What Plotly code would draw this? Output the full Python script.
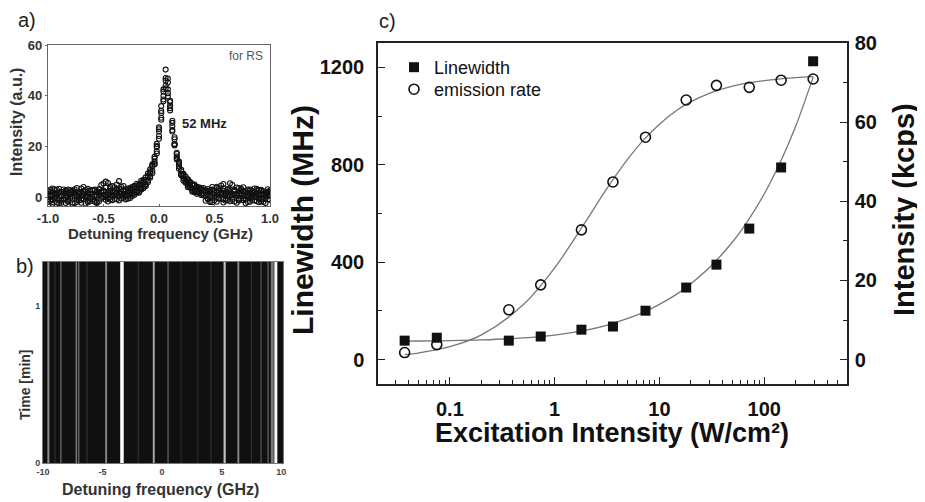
import plotly.graph_objects as go

W, H = 925, 502
OFF = 8  # the page body adds an 8px margin around the figure
FONT = "Liberation Sans, Arial, sans-serif"

# ---------------- panel a: resonance scan ----------------
detuning_a_ghz = [
    -1.00, -0.98, -0.96, -0.94, -0.92, -0.90, -0.88, -0.86, -0.84, -0.82,
    -0.80, -0.78, -0.76, -0.74, -0.72, -0.70, -0.68, -0.66, -0.64, -0.62,
    -0.60, -0.58, -0.56, -0.54, -0.52, -0.50, -0.48, -0.46, -0.44, -0.42,
    -0.40, -0.38, -0.36, -0.34, -0.32, -0.30, -0.28, -0.26, -0.24, -0.22,
    -0.20, -0.18, -0.16, -0.14, -0.12, -0.10, -0.08, -0.06, -0.04, -0.02,
    0.00, 0.02, 0.04, 0.06, 0.08, 0.10, 0.12, 0.14, 0.16, 0.18,
    0.20, 0.22, 0.24, 0.26, 0.28, 0.30, 0.32, 0.34, 0.36, 0.38,
    0.40, 0.42, 0.44, 0.46, 0.48, 0.50, 0.52, 0.54, 0.56, 0.58,
    0.60, 0.62, 0.64, 0.66, 0.68, 0.70, 0.72, 0.74, 0.76, 0.78,
    0.80, 0.82, 0.84, 0.86, 0.88, 0.90, 0.92, 0.94, 0.96, 0.98, 1.00,
]
scan1 = [
    1.2, -1.5, 2.3, 0.4, -2.1, 1.8, 0.2, -0.9, 2.6, -1.8,
    0.9, 1.5, -2.4, 0.3, 2.0, -1.1, 1.3, 0.6, -2.0, 2.7,
    0.1, -1.4, 1.9, 3.2, -0.6, 2.4, 1.0, -1.7, 3.5, 0.8,
    2.2, -0.8, 1.7, 4.1, 0.5,
    3.1, 0.4, 3.6, 1.2, 4.5, 2.0, 5.1, 3.2, 6.8, 4.9,
    8.5, 10.2, 12.0, 15.9, 20.1, 26.8, 34.0, 42.5, 47.0, 45.2,
    38.0, 30.1, 22.8, 17.5, 14.0, 10.8, 9.2, 6.0, 6.8, 3.9,
    5.2, 2.4, 4.1, 1.6, 3.5, 0.9,
    2.8, -0.5, 1.9, 3.0, -1.2, 2.2, 0.6, 4.6, -0.9, 1.4,
    2.9, -1.6, 0.7, 2.5, -2.2, 1.1, 3.3, -0.4, 1.8, -1.9,
    2.6, 0.2, -1.3, 1.6, 2.8, -0.7, 1.0, -2.3, 2.1, 0.5,
]
scan2 = [
    -0.8, 2.0, -2.6, 1.1, 2.9, -1.2, 0.7, 3.0, -2.3, 1.6,
    -0.4, 2.5, 0.9, -1.9, 1.2, 3.4, -0.7, 2.1, 1.4, -1.6,
    2.8, 0.5, -2.0, 1.3, 4.8, 1.9, -1.0, 5.6, 2.3, 0.1,
    3.9, 1.5, 6.3, -0.5, 2.6,
    0.2, 3.4, 0.9, 4.1, 1.6, 5.3, 2.1, 6.4, 3.5, 7.8,
    5.9, 11.0, 9.4, 13.1, 17.2, 23.0, 30.5, 37.8, 42.9, 41.0,
    34.2, 26.5, 20.4, 15.3, 11.2, 8.6, 6.5, 8.1, 3.9, 6.0,
    2.1, 5.0, 1.3, 3.9, 0.8, 3.6,
    -1.4, 2.4, 0.3, -2.0, 1.5, 3.6, -0.6, 2.0, 5.2, 0.8,
    -1.1, 2.3, 4.9, 1.0, 3.8, -0.9, 2.7, 0.4, -2.4, 1.7,
    3.0, -0.2, 2.2, -1.5, 0.6, 2.9, -0.8, 1.8, 3.1, -1.1,
]
scan3 = [
    2.4, 0.3, -1.1, 3.1, -0.5, 1.9, -2.2, 1.3, 0.5, -1.0,
    2.8, -2.1, 1.7, 3.6, -0.3, 0.8, 2.3, -2.5, 0.2, 1.4,
    -0.8, 3.0, 0.6, -1.6, 2.2, 0.0, 3.8, 1.1, -0.9, 4.4,
    0.6, 2.9, -1.3, 2.0, 1.0,
    2.3, -0.6, 1.8, 3.4, 0.9, 4.0, 1.7, 2.9, 6.1, 4.3,
    9.4, 7.6, 12.9, 13.0, 19.8, 24.1, 33.2, 39.9, 50.3, 46.8,
    37.5, 28.0, 21.0, 16.0, 13.5, 9.1, 8.3, 5.7, 7.0, 4.8,
    2.7, 4.6, 2.0, 3.0, 1.4, 2.6,
    0.4, 3.2, -1.5, 1.2, 2.6, -0.3, 3.5, 1.4, -2.1, 2.0,
    0.7, 5.5, 1.3, -1.7, 0.9, 2.2, -0.5, 3.9, 1.2, 0.3,
    -1.8, 2.4, 1.1, 3.3, -0.6, 1.5, -1.9, 0.8, 2.0, 1.2,
]
scan4 = [
    0.6, 2.9, -1.9, -0.2, 1.6, 3.3, -1.4, 2.1, -0.3, 3.0,
    1.2, -2.7, 2.2, 0.4, -1.3, 1.9, 4.0, 0.0, -1.5, 2.5,
    1.0, 2.6, -2.3, 0.8, 1.8, 5.4, 0.3, 2.0, 4.2, -1.2,
    1.6, 5.0, 0.4, 3.1, -0.2,
    1.1, 2.8, -0.3, 2.6, 3.9, 1.8, 4.5, 5.5, 4.2, 6.7,
    8.0, 9.5, 10.3, 15.2, 18.1, 25.9, 31.3, 41.6, 44.0, 42.5,
    35.1, 29.3, 20.9, 17.0, 12.1, 10.2, 7.4, 7.0, 5.1, 3.8,
    4.9, 3.0, 2.5, 3.3, 2.8, 1.5,
    1.9, -0.8, 2.6, 4.0, 0.1, -1.8, 2.7, 0.9, 3.4, -0.6,
    1.7, 3.0, -1.0, 2.1, 0.5, 3.6, 1.4, -1.2, 2.3, 0.8,
    -0.5, 1.9, 3.4, 0.0, -2.0, 2.4, 1.3, -0.3, 1.0, 2.6,
]
scan5 = [
    -1.9, 1.0, 3.4, -0.4, 0.9, -2.4, 2.0, 0.6, 1.7, -1.5,
    2.1, 0.2, 3.1, -0.9, 1.6, -2.2, 0.4, 2.8, 3.3, -0.6,
    1.2, -1.8, 2.4, 3.0, 0.4, 2.6, 6.1, -0.4, 1.5, 2.7,
    -0.7, 2.3, 3.4, 1.2, 4.4,
    -0.9, 2.1, 2.9, 0.4, 3.3, 2.6, 4.8, 3.9, 5.6, 5.1,
    6.6, 8.2, 12.4, 14.0, 21.0, 27.5, 35.9, 38.5, 46.0, 39.8,
    36.0, 25.9, 23.6, 14.8, 12.9, 8.9, 8.8, 6.2, 4.5, 5.7,
    3.4, 1.9, 3.8, 1.9, 3.0, 0.7,
    2.2, 1.0, -1.9, 2.8, 0.9, 4.1, -0.4, 1.6, 2.5, -1.4,
    3.2, 0.5, -0.2, 2.9, 1.5, -1.3, 1.0, 2.5, -0.9, 3.0,
    1.6, -1.1, 0.3, 2.7, 1.1, -1.6, 2.3, 0.2, -0.9, 1.8,
]

# ---------------- panel b: spectral lines vs time ----------------
line_freqs_ghz = [-9.55, -9.0, -8.5, -7.2, -7.0, -6.3, -4.7, -3.37, -2.0, -0.7, 0.5,
                  1.6, 3.0, 4.1, 5.25, 6.4, 7.5, 8.3, 8.9, 9.25, 9.55]
line_brightness = [0.5, 0.1, 0.28, 0.42, 0.3, 0.1, 0.45, 1.0, 0.1, 0.6, 0.25,
                   0.08, 0.08, 0.1, 0.72, 0.45, 0.1, 0.18, 0.25, 0.4, 0.98]
line_widths_px = [2, 1, 1.5, 1.5, 1.5, 1, 2, 3.5, 1, 2, 1.5,
                  1, 1, 1, 2.2, 2, 1, 1.5, 1.5, 3, 3]
time_span_min = [0.0, 1.28]

# ---------------- panel c: power dependence ----------------
exc_intensity = [0.037, 0.075, 0.365, 0.736, 1.8, 3.6, 7.36, 18, 35, 72, 145, 293]
linewidth_mhz = [78, 90, 78, 95, 123, 136, 201, 296, 390, 538, 789, 1225]
emission_kcps = [1.8, 3.8, 12.6, 18.9, 32.8, 44.9, 56.2, 65.6, 69.3, 68.8, 70.6, 70.9]

fit_x = [0.037, 0.05, 0.1, 0.2, 0.5, 1, 2, 3, 5, 7, 10, 15, 20, 30, 50, 70, 100, 150, 200, 293]
linewidth_fit = [76, 76.5, 78, 81, 89, 101, 121.5, 139, 169, 194, 227, 272, 312, 378,
                 484, 571, 680, 832, 959, 1160]
emission_fit = [1.25, 1.67, 3.27, 6.26, 13.85, 23.2, 35.1, 42.4, 50.7, 55.4, 59.5, 63.2,
                65.2, 67.3, 69.1, 69.9, 70.5, 71.0, 71.25, 71.5]


def px(xp):
    return (xp - OFF) / W


def py(yp):
    return 1 - (yp - OFF) / H


fig = go.Figure()

# panel a scatter
for s in (scan1, scan2, scan3, scan4, scan5):
    fig.add_trace(go.Scatter(
        x=detuning_a_ghz, y=s, mode="markers", xaxis="x", yaxis="y",
        marker=dict(symbol="circle-open", size=5, color="#111", line=dict(width=1.1)),
        showlegend=False, hoverinfo="skip"))

# panel b lines
for f, b, w in zip(line_freqs_ghz, line_brightness, line_widths_px):
    g = int(30 + 225 * b)
    fig.add_trace(go.Scatter(
        x=[f, f], y=time_span_min, mode="lines", xaxis="x2", yaxis="y2",
        line=dict(color=f"rgb({g},{g},{g})", width=w),
        showlegend=False, hoverinfo="skip"))

# panel c fits
fig.add_trace(go.Scatter(x=fit_x, y=linewidth_fit, mode="lines", xaxis="x3", yaxis="y3",
                         line=dict(color="#777", width=1.3, shape="spline"),
                         showlegend=False, hoverinfo="skip"))
fig.add_trace(go.Scatter(x=fit_x, y=emission_fit, mode="lines", xaxis="x3", yaxis="y4",
                         line=dict(color="#777", width=1.3, shape="spline"),
                         showlegend=False, hoverinfo="skip"))
fig.add_trace(go.Scatter(x=exc_intensity, y=linewidth_mhz, mode="markers", xaxis="x3", yaxis="y3",
                         name="Linewidth", legend="legend",
                         marker=dict(symbol="square", size=10, color="#111")))
fig.add_trace(go.Scatter(x=exc_intensity, y=emission_kcps, mode="markers", xaxis="x3", yaxis="y4",
                         name="emission rate", legend="legend2",
                         marker=dict(symbol="circle-open", size=10, color="#111",
                                     line=dict(width=1.6))))

axa = dict(showgrid=False, zeroline=False, showline=True, mirror=True, linecolor="#666",
           linewidth=1.2, ticks="outside", ticklen=2, tickcolor="#666", automargin=False,
           tickfont=dict(family=FONT, size=13, color="#333", weight="bold"))
axb = dict(showgrid=False, zeroline=False, showline=True, mirror=True, linecolor="#777",
           linewidth=1, ticks="", automargin=False,
           tickfont=dict(family=FONT, size=9, color="#444", weight="bold"))
axc = dict(showgrid=False, zeroline=False, showline=True, linecolor="#222", linewidth=1.5,
           ticks="inside", ticklen=7, tickcolor="#222", tickwidth=1.3, automargin=False,
           tickfont=dict(family=FONT, size=20, color="#111", weight="bold"))

legend_style = dict(xanchor="left", yanchor="top", bgcolor="rgba(0,0,0,0)",
                    font=dict(family=FONT, size=18, color="#111"),
                    itemwidth=30, borderwidth=0)

fig.update_layout(
    template="none",
    width=W, height=H, margin=dict(l=0, r=0, t=0, b=0, pad=0, autoexpand=False),
    paper_bgcolor="white", plot_bgcolor="rgba(0,0,0,0)",
    xaxis=dict(axa, domain=[px(48), px(270)], anchor="y", range=[-1, 1], ticks="inside",
               tickvals=[-1, -0.5, 0, 0.5, 1], ticktext=["-1.0", "-0.5", "0.0", "0.5", "1.0"]),
    yaxis=dict(axa, domain=[py(206), py(45)], anchor="x", range=[-3.5, 60],
               tickvals=[0, 20, 40, 60]),
    xaxis2=dict(axb, domain=[px(43), px(283)], anchor="y2", range=[-10, 10.15],
                tickvals=[-10, -5, 0, 5, 10], ticktext=["-10", "-5", "0", "5", "10"]),
    yaxis2=dict(axb, domain=[py(463), py(262)], anchor="x2", range=[0, 1.28],
                tickvals=[0, 1]),
    xaxis3=dict(axc, domain=[px(378), px(847)], anchor="y3", type="log",
                range=[-1.686, 2.79], tickvals=[0.1, 1, 10, 100], ticktext=["0.1", "1", "10", "100"],
                mirror=True, ticklabelstandoff=6,
                minor=dict(ticks="inside", ticklen=4, tickcolor="#222",
                           tickvals=[0.03, 0.04, 0.05, 0.06, 0.07, 0.08, 0.09,
                                     0.2, 0.3, 0.4, 0.5, 0.6, 0.7, 0.8, 0.9,
                                     2, 3, 4, 5, 6, 7, 8, 9,
                                     20, 30, 40, 50, 60, 70, 80, 90,
                                     200, 300, 400, 500])),
    yaxis3=dict(axc, domain=[py(384), py(43)], anchor="x3", range=[-100, 1300],
                tickvals=[0, 400, 800, 1200], ticklabelstandoff=8,
                minor=dict(ticks="inside", ticklen=4, tickcolor="#222", dtick=200, tick0=0)),
    yaxis4=dict(axc, overlaying="y3", side="right", anchor="x3", range=[-6.15, 80],
                tickvals=[0, 20, 40, 60, 80], ticklabelstandoff=2,
                minor=dict(ticks="inside", ticklen=4, tickcolor="#222", dtick=10, tick0=0)),
    legend=dict(legend_style, x=px(394), y=py(49)),
    legend2=dict(legend_style, x=px(394), y=py(71)),
    shapes=[dict(type="rect", xref="x2 domain", yref="y2 domain", x0=0, x1=1, y0=0, y1=1,
                 fillcolor="#101010", line=dict(width=0), layer="below")],
)

ann = []


def add_text(text, x, y, size, bold=True, angle=0, color="#111", xanchor="center"):
    ann.append(dict(text=text, x=px(x), y=py(y), xref="paper", yref="paper",
                    showarrow=False, textangle=angle, xanchor=xanchor, yanchor="middle",
                    font=dict(family=FONT, size=size, color=color,
                              weight="bold" if bold else "normal")))


add_text("a)", 27, 20, 20, bold=False, color="#222")
add_text("b)", 25, 266, 20, bold=False, color="#222")
add_text("c)", 387, 21, 20, bold=False, color="#222")
add_text("for RS", 265, 56, 12, bold=False, color="#555", xanchor="right")
add_text("52 MHz", 204, 123, 13, color="#222")
add_text("Intensity (a.u.)", 16, 122, 16, angle=-90, color="#333")
add_text("Detuning frequency (GHz)", 160, 233, 15, color="#333")
add_text("Time [min]", 25, 385, 14, angle=-90, color="#333")
add_text("Detuning frequency (GHz)", 160, 489, 16, color="#333")
add_text("Linewidth (MHz)", 302, 220, 30, angle=-90)
add_text("Intensity (kcps)", 904, 210, 29, angle=-90)
add_text("Excitation Intensity (W/cm²)", 612, 433, 27)

fig.update_layout(annotations=ann)

fig.write_html("out.html")
